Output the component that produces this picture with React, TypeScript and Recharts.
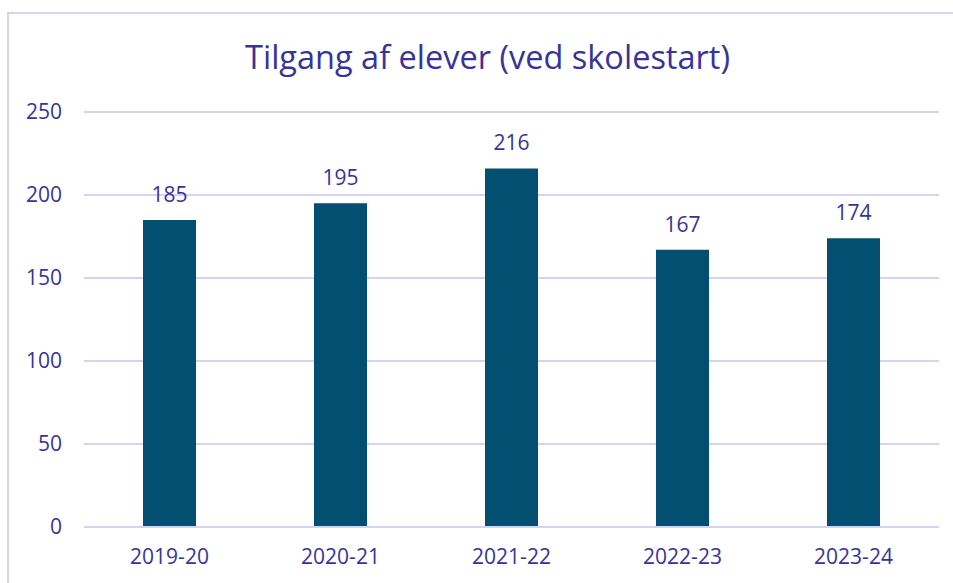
import { BarChart, Bar, XAxis, YAxis, CartesianGrid, LabelList } from "recharts"

const years = ["2019-20", "2020-21", "2021-22", "2022-23", "2023-24"]
const students = [185, 195, 216, 167, 174]
const yTicks = [0, 50, 100, 150, 200, 250]

const TEXT = "#37339B"
const BAR = "#034F72"
const GRID = "#D6D2F0"
const FONT = "'Open Sans', 'Noto Sans', sans-serif"

export default function App() {
  const data = years.map((year, i) => ({ year, value: students[i] }))

  return (
    <div
      style={{
        position: "absolute",
        left: 0,
        top: 0,
        width: 953,
        height: 583,
        overflow: "hidden",
        background: "#fff",
        fontFamily: FONT,
      }}
    >
      {/* chart frame */}
      <div
        style={{
          position: "absolute",
          left: 7,
          top: 12,
          width: 1000,
          height: 700,
          border: `2px solid ${GRID}`,
          boxSizing: "border-box",
        }}
      />
      <div
        style={{
          position: "absolute",
          left: 0,
          width: 975,
          top: 37,
          textAlign: "center",
          fontSize: 32.5,
          color: TEXT,
          lineHeight: "40px",
        }}
      >
        Tilgang af elever (ved skolestart)
      </div>
      <div style={{ position: "absolute", left: 0, top: 0 }}>
        <BarChart
          width={953}
          height={583}
          data={data}
          margin={{ top: 112, right: 14, bottom: 16, left: 24 }}
        >
          <CartesianGrid vertical={false} stroke={GRID} strokeWidth={2} />
          <XAxis
            dataKey="year"
            height={40}
            axisLine={{ stroke: GRID, strokeWidth: 2 }}
            tickLine={false}
            tickSize={0}
            tickMargin={22}
            tick={{ fill: TEXT, fontSize: 21, fontFamily: FONT }}
          />
          <YAxis
            width={60}
            domain={[0, 250]}
            ticks={yTicks}
            axisLine={false}
            tickLine={false}
            tickSize={0}
            tickMargin={22}
            tick={{ fill: TEXT, fontSize: 21, fontFamily: FONT }}
          />
          <Bar dataKey="value" fill={BAR} barSize={53} isAnimationActive={false}>
            <LabelList
              dataKey="value"
              position="top"
              offset={18}
              fill={TEXT}
              fontSize={21}
              fontFamily={FONT}
            />
          </Bar>
        </BarChart>
      </div>
    </div>
  )
}
